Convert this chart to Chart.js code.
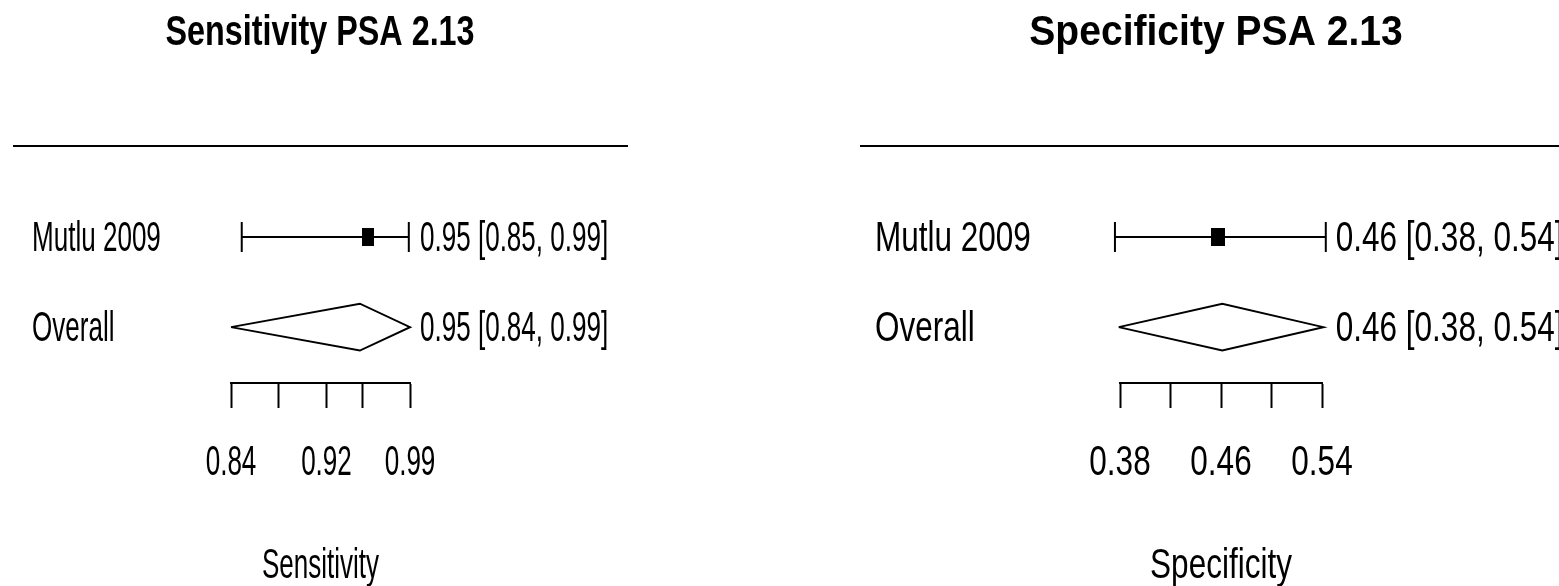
<!DOCTYPE html>
<html>
<head>
<meta charset="utf-8">
<script src="https://cdn.jsdelivr.net/npm/chart.js@4.4.1/dist/chart.umd.min.js"></script>
<style>
  html, body { margin: 0; padding: 0; background: #fff; }
  body { width: 1559px; height: 586px; position: relative; overflow: hidden; }
  canvas { position: absolute; top: 0; }
</style>
</head>
<body>
<canvas id="sens" width="780" height="586" style="left:0px"></canvas>
<canvas id="spec" width="779" height="586" style="left:780px"></canvas>
<script>
// rows: studies first, pooled estimate last
var rowLabels = ['Mutlu 2009', 'Overall'];

var sensEst = [0.955, 0.948];
var sensLow = [0.849, 0.84];
var sensHigh = [0.989, 0.99];
var sensText = ['0.95 [0.85, 0.99]', '0.95 [0.84, 0.99]'];
var sensTicks = [0.84, 0.88, 0.92, 0.95, 0.99];
var sensTickLabels = ['0.84', '', '0.92', '', '0.99'];

var specEst = [0.458, 0.461];
var specLow = [0.376, 0.379];
var specHigh = [0.543, 0.541];
var specText = ['0.46 [0.38, 0.54]', '0.46 [0.38, 0.54]'];
var specTicks = [0.38, 0.42, 0.46, 0.50, 0.54];
var specTickLabels = ['0.38', '', '0.46', '', '0.54'];

var FONT = '"Liberation Sans", Arial, sans-serif';

// little black box for the study estimate
function boxMarker(w, h) {
  var c = document.createElement('canvas');
  c.width = w; c.height = h;
  var g = c.getContext('2d');
  g.fillStyle = '#000';
  g.fillRect(0, 0, w, h);
  return c;
}

function drawText(ctx, str, x, y, size, bold, sx, align) {
  ctx.save();
  ctx.translate(x, y);
  ctx.scale(sx, 1);
  ctx.font = (bold ? 'bold ' : '') + size + 'px ' + FONT;
  ctx.fillStyle = '#000';
  ctx.textAlign = align;
  ctx.textBaseline = 'alphabetic';
  ctx.fillText(str, 0, 0);
  ctx.restore();
}

var forestText = {
  id: 'forestText',
  afterDraw: function(chart, args, o) {
    var ctx = chart.ctx;
    var xs = chart.scales.x, ys = chart.scales.y;
    // title and rule
    drawText(ctx, o.title, o.titleX, 45, 42, true, o.titleSx, 'center');
    ctx.save();
    ctx.strokeStyle = '#000';
    ctx.lineWidth = 2;
    ctx.beginPath();
    ctx.moveTo(o.lineLeft, chart.chartArea.top);
    ctx.lineTo(o.lineRight, chart.chartArea.top);
    ctx.stroke();
    ctx.restore();
    // row labels and estimate text
    var n = rowLabels.length;
    var textX = xs.getPixelForValue(Math.max.apply(null, o.high.concat([xs.max]))) + 10;
    rowLabels.forEach(function(lab, i) {
      var y = ys.getPixelForValue(n - i) + 14;
      drawText(ctx, lab, o.labelX, y, 42, false, o.sx, 'left');
      drawText(ctx, o.text[i], textX, y, 42, false, o.sx, 'left');
    });
    // tick labels
    xs.ticks.forEach(function(t, i) {
      if (!o.tickLabels[i]) return;
      drawText(ctx, o.tickLabels[i], xs.getPixelForValue(t.value), 475, 42, false, o.sx, 'center');
    });
    // axis title
    drawText(ctx, o.axisTitle, (xs.left + xs.right) / 2, 578, 42, false, o.sx, 'center');
  }
};

function makeForest(id, est, low, high, text, ticks, tickLabels, opt) {
  var n = rowLabels.length;
  var datasets = [];
  var diamondHalf = 0.26;
  for (var i = 0; i < n - 1; i++) {
    var y = n - i;
    datasets.push({
      type: 'line',
      clip: false,
      data: [{x: low[i], y: y}, {x: high[i], y: y}],
      borderColor: '#000',
      borderWidth: 2,
      pointStyle: 'line',
      rotation: 90,
      pointRadius: 15,
      pointBorderWidth: 2,
      pointBorderColor: '#000'
    });
    datasets.push({
      type: 'scatter',
      clip: false,
      data: [{x: est[i], y: y}],
      pointStyle: boxMarker(opt.boxW, 18),
      pointRadius: 9
    });
  }
  var k = n - 1;
  datasets.push({
    type: 'line',
    clip: false,
    data: [
      {x: low[k], y: 1}, {x: est[k], y: 1 + diamondHalf},
      {x: high[k], y: 1}, {x: est[k], y: 1 - diamondHalf},
      {x: low[k], y: 1}
    ],
    borderColor: '#000',
    borderWidth: 2,
    fill: false,
    tension: 0,
    pointRadius: 0
  });

  return new Chart(document.getElementById(id).getContext('2d'), {
    type: 'scatter',
    data: { datasets: datasets },
    options: {
      responsive: false,
      animation: false,
      events: [],
      layout: { padding: { top: 146, left: opt.padLeft, right: opt.padRight, bottom: 0 } },
      plugins: {
        legend: { display: false },
        tooltip: { enabled: false },
        forestText: {
          title: opt.title, titleX: opt.titleX, titleSx: opt.titleSx,
          lineLeft: opt.lineLeft, lineRight: opt.lineRight,
          labelX: opt.labelX, sx: opt.sx,
          text: text, high: high, tickLabels: tickLabels,
          axisTitle: opt.axisTitle
        }
      },
      scales: {
        x: {
          type: 'linear',
          position: 'bottom',
          min: ticks[0],
          max: ticks[ticks.length - 1],
          afterBuildTicks: function(scale) {
            scale.ticks = ticks.map(function(v) { return {value: v}; });
          },
          afterFit: function(scale) { scale.height = 203; },
          border: { display: true, color: '#000', width: 2 },
          grid: { drawOnChartArea: false, drawTicks: true, tickLength: 25, tickColor: '#000', tickWidth: 2 },
          ticks: { display: false }
        },
        y: { type: 'linear', display: false, min: 0.38, max: 3.01 }
      }
    },
    plugins: [forestText]
  });
}

makeForest('sens', sensEst, sensLow, sensHigh, sensText, sensTicks, sensTickLabels, {
  title: 'Sensitivity PSA 2.13', titleX: 320, titleSx: 0.77,
  lineLeft: 13, lineRight: 628, labelX: 32, sx: 0.62,
  padLeft: 231, padRight: 370, boxW: 12, axisTitle: 'Sensitivity'
});

makeForest('spec', specEst, specLow, specHigh, specText, specTicks, specTickLabels, {
  title: 'Specificity PSA 2.13', titleX: 436, titleSx: 0.93,
  lineLeft: 80, lineRight: 779, labelX: 95, sx: 0.75,
  padLeft: 340, padRight: 237, boxW: 14, axisTitle: 'Specificity'
});
</script>
</body>
</html>
